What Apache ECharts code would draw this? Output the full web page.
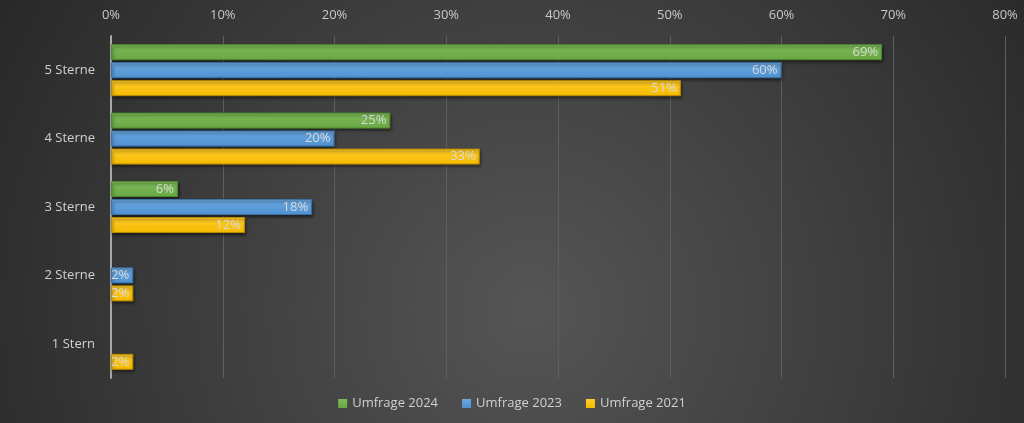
<!DOCTYPE html>
<html>
<head>
<meta charset="utf-8">
<script src="https://cdn.jsdelivr.net/npm/echarts@6/dist/echarts.min.js"></script>
<style>
    html, body { margin: 0; padding: 0; background: #333; }
    #main { width: 1024px; height: 423px; }
</style>
</head>
<body>
<div id="main"></div>
<script>
// Kategorien von oben nach unten
const categories = ['5 Sterne', '4 Sterne', '3 Sterne', '2 Sterne', '1 Stern']
const umfrage2024 = [69, 25, 6, null, null]
const umfrage2023 = [60, 20, 18, 2, null]
const umfrage2021 = [51, 33, 12, 2, 2]
const xTicks = { min: 0, max: 80, interval: 10 }

function barStyle(top, bottom, border) {
    return {
        color: new echarts.graphic.LinearGradient(0, 0, 0, 1, [
            { offset: 0, color: top },
            { offset: 1, color: bottom }
        ]),
        borderColor: border,
        borderWidth: 1,
        shadowColor: 'rgba(0,0,0,0.55)',
        shadowBlur: 3,
        shadowOffsetX: 1,
        shadowOffsetY: 2
    }
}

const label = {
    show: true,
    position: 'insideRight',
    distance: 4,
    color: '#d9d9d9',
    fontSize: 13,
    fontFamily: 'Open Sans',
    formatter: p => p.value + '%'
}

const chart = echarts.init(document.getElementById('main'))
chart.setOption({
    backgroundColor: new echarts.graphic.RadialGradient(530, 310, 620, [
        { offset: 0, color: '#555555' },
        { offset: 1, color: '#282828' }
    ], true),
    textStyle: { fontFamily: 'Open Sans' },
    grid: { left: 111, right: 19, top: 36, bottom: 45 },
    legend: {
        bottom: 8,
        left: 'center',
        itemWidth: 9,
        itemHeight: 9,
        itemGap: 24,
        icon: 'rect',
        itemStyle: { borderWidth: 0, shadowBlur: 0, shadowOffsetX: 0, shadowOffsetY: 0 },
        textStyle: { color: '#d0d0d0', fontSize: 13, fontFamily: 'Open Sans' },
        data: ['Umfrage 2024', 'Umfrage 2023', 'Umfrage 2021']
    },
    xAxis: {
        type: 'value',
        position: 'top',
        min: xTicks.min,
        max: xTicks.max,
        interval: xTicks.interval,
        axisLine: { show: false },
        axisTick: { show: false },
        axisLabel: { color: '#c8c8c8', fontSize: 13, margin: 14, formatter: '{value}%' },
        splitLine: { lineStyle: { color: '#5e5e5e', width: 1 } }
    },
    yAxis: {
        type: 'category',
        inverse: true,
        data: categories,
        axisLine: { lineStyle: { color: '#a8a8a8', width: 2 } },
        axisTick: { show: false },
        axisLabel: { color: '#d0d0d0', fontSize: 13, margin: 16 }
    },
    series: [
        {
            name: 'Umfrage 2024', type: 'bar', data: umfrage2024,
            barWidth: 16, barGap: '12.5%',
            itemStyle: barStyle('#7dbb58', '#68a843', '#4f8a32'),
            label: label
        },
        {
            name: 'Umfrage 2023', type: 'bar', data: umfrage2023,
            barWidth: 16, barGap: '12.5%',
            itemStyle: barStyle('#6aa8e0', '#4f92d2', '#3a73a8'),
            label: label
        },
        {
            name: 'Umfrage 2021', type: 'bar', data: umfrage2021,
            barWidth: 16, barGap: '12.5%',
            itemStyle: barStyle('#ffcb2a', '#f5bb00', '#b98c00'),
            label: label
        }
    ]
})
</script>
</body>
</html>
